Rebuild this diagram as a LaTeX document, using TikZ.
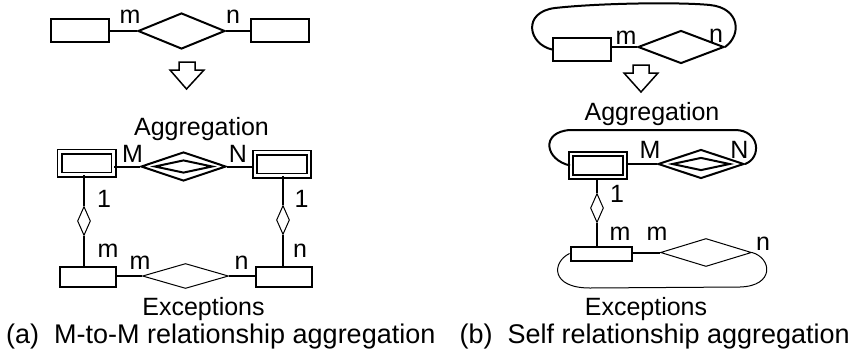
\documentclass[tikz,border=0pt]{standalone}
\usepackage{fontspec}
\setmainfont{Liberation Sans}
\usetikzlibrary{shapes.geometric}

\tikzset{
  entity/.style={draw, line width=2pt, inner sep=0pt, minimum width=58pt, minimum height=23pt},
  weakentity/.style={draw, line width=1.8pt, double, double distance=2.4pt, inner sep=0pt,
    minimum width=54pt, minimum height=23pt},
  rel/.style={diamond, draw, line width=2pt, inner sep=0pt},
  thinrel/.style={diamond, draw, line width=1pt, inner sep=0pt},
  smallrel/.style={diamond, draw, line width=1pt, inner sep=0pt, minimum width=13pt, minimum height=29pt},
  lbl/.style={inner sep=0pt, anchor=base, font=\fontsize{25}{30}\selectfont},
  captxt/.style={inner sep=0pt, font=\fontsize{27}{32}\selectfont},
}

\begin{document}
\begin{tikzpicture}[x=1pt, y=-1pt]
  \useasboundingbox (0,0) rectangle (855,360);

  % (a) M-to-M
  \node[entity] (a1) at (80,30.5) {};
  \node[rel, minimum width=87pt, minimum height=36pt] (ar) at (181.5,31) {};
  \node[entity] (a2) at (280,30.5) {};
  \node[lbl] (am) at (130,23) {m};
  \node[lbl] (an) at (233,23) {n};

  \draw[line width=1.5pt] (179,62) -- (195,62) -- (195,70) -- (204,70) -- (186.5,89)
    -- (170,70) -- (179,70) -- cycle;

  \node[lbl] (aagg) at (201.5,135) {Aggregation};
  \node[weakentity] (aw1) at (86.5,163) {};
  \node[weakentity] (aw2) at (282,164) {};
  \node[rel, minimum width=85pt, minimum height=29pt] (awr) at (183.5,166.5) {};
  \node[rel, minimum width=58pt, minimum height=13pt] (awri) at (183.5,166.5) {};
  \node[lbl] (aM) at (132.5,162) {M};
  \node[lbl] (aN) at (238,162) {N};
  \node[lbl] (aone1) at (104,207) {1};
  \node[lbl] (aone2) at (301.5,207) {1};
  \node[smallrel] (as1) at (84,221) {};
  \node[smallrel] (as2) at (283,220) {};

  \node[entity, minimum width=56pt, minimum height=20pt] (ae1) at (88,277) {};
  \node[thinrel, minimum width=86pt, minimum height=25pt] (aer) at (185.5,276) {};
  \node[entity, minimum width=56pt, minimum height=20pt] (ae2) at (283.5,277) {};
  \node[lbl] (am1) at (108,257) {m};
  \node[lbl] (am2) at (140,269) {m};
  \node[lbl] (an1) at (241.5,269) {n};
  \node[lbl] (an2) at (300,257) {n};
  \node[lbl] (aexc) at (203.5,315) {Exceptions};
  \node[captxt, anchor=base west] (acap) at (6,343) {(a)~ M-to-M relationship aggregation};

  % (b) self
  \node[entity] (b1) at (582,49.5) {};
  \node[rel, minimum width=86pt, minimum height=33pt] (br) at (681,47) {};
  \node[lbl] (bm) at (626,44) {m};
  \node[lbl] (bn) at (716,42) {n};

  \draw[line width=1.5pt] (633,65) -- (649,65) -- (649,73) -- (658,73) -- (641,92)
    -- (624,73) -- (633,73) -- cycle;

  \node[lbl] (bagg) at (652,120) {Aggregation};
  \node[weakentity] (bw1) at (598,165.5) {};
  \node[rel, minimum width=86pt, minimum height=29pt] (bwr) at (701,164) {};
  \node[rel, minimum width=58pt, minimum height=13pt] (bwri) at (701,164) {};
  \node[lbl] (bM) at (650,158) {M};
  \node[lbl] (bN) at (739.5,158) {N};
  \node[lbl] (bone) at (617,202) {1};
  \node[smallrel] (bs) at (597,208) {};

  \node[entity, minimum width=61pt, minimum height=14pt] (be) at (601,253.5) {};
  \node[thinrel, minimum width=91pt, minimum height=28pt] (ber) at (706,252.5) {};
  \node[lbl] (bm1) at (620,240) {m};
  \node[lbl] (bm2) at (657,240) {m};
  \node[lbl] (bn1) at (763,250) {n};
  \node[lbl] (bexc) at (646,315) {Exceptions};
  \node[captxt, anchor=base east] (bcap) at (850,343) {(b)~ Self relationship aggregation};

  \begin{scope}[line width=2pt]
    \draw (ar.west) -- (ar.west -| a1.east);
    \draw (ar.east) -- (ar.east -| a2.west);
    \draw (awr.west) -- (awr.west -| aw1.east);
    \draw (awr.east) -- (awr.east -| aw2.west);
    \draw (aer.west) -- (aer.west -| ae1.east);
    \draw (aer.east) -- (aer.east -| ae2.west);
    \draw (br.west) -- (br.west -| b1.east);
    \draw (bwr.west) -- (bwr.west -| bw1.east);
    \draw (ber.west) -- (ber.west -| be.east);
    \draw (b1.west) .. controls (528,44) and (522,12) .. (555,8)
      .. controls (600,3) and (680,2) .. (710,5)
      .. controls (740,8) and (742,35) .. (br.east);
    \draw (bw1.west) .. controls (545,160) and (540,132) .. (570,130)
      -- (735,130) .. controls (760,130) and (762,158) .. (bwr.east);
  \end{scope}
  \begin{scope}[line width=1.5pt]
    \draw (as1.north) -- (as1.north |- aw1.south);
    \draw (as1.south) -- (as1.south |- ae1.north);
    \draw (as2.north) -- (as2.north |- aw2.south);
    \draw (as2.south) -- (as2.south |- ae2.north);
    \draw (bs.north) -- (bs.north |- bw1.south);
    \draw (bs.south) -- (bs.south |- be.north);
  \end{scope}
  \draw[line width=1pt] (be.west) .. controls (552,262) and (550,288) .. (590,288)
    -- (740,287) .. controls (775,286) and (772,258) .. (ber.east);
\end{tikzpicture}
\end{document}
